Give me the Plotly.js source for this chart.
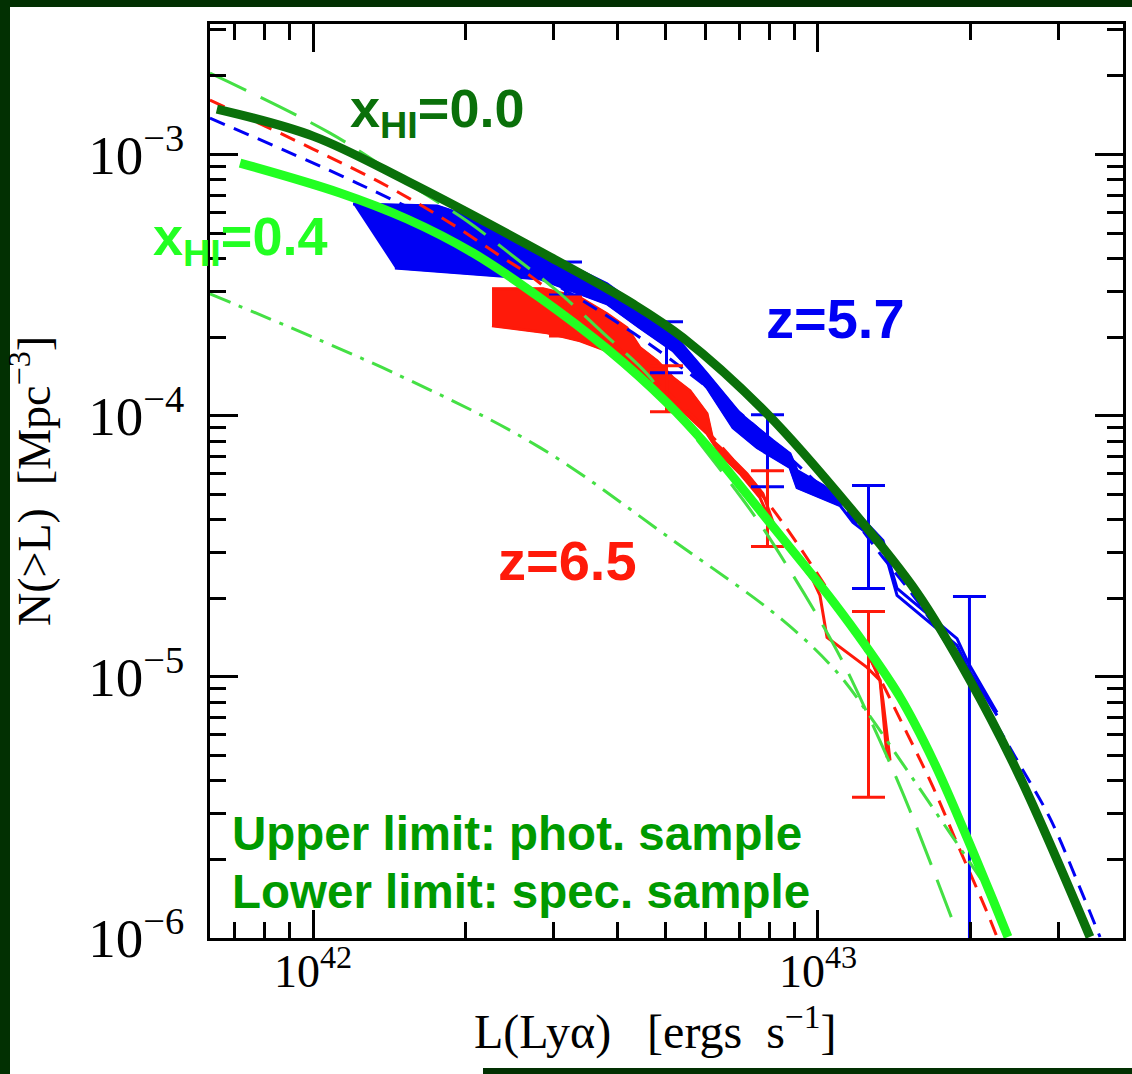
<!DOCTYPE html>
<html>
<head>
<meta charset="utf-8">
<script src="https://cdn.plot.ly/plotly-3.0.1.min.js"></script>
<style>
html,body{margin:0;padding:0;background:#ffffff;}
#chart{width:1132px;height:1074px;}
</style>
</head>
<body>
<div id="chart"></div>
<script>
// Units: luminosity in 1e42 erg/s, density in 1e-4 Mpc^-3
const L_UNIT = 1e42;
const N_UNIT = 1e-4;

// Model curve, x_HI = 0.0 (thick dark green)
const xhi00_L = [0.645, 1.0, 1.535, 2.947, 4.302, 5.403, 7.925, 11.57, 15.70, 20.00, 25.12, 34.56];
const xhi00_N = [14.93, 11.77, 7.92, 4.055, 2.681, 1.988, 1.018, 0.4446, 0.2104, 0.0970, 0.04127, 0.01009];

// Model curve, x_HI = 0.4 (thick bright green)
const xhi04_L = [0.717, 1.131, 1.535, 2.074, 2.816, 3.821, 5.023, 6.029, 7.009, 8.145, 9.511, 10.71, 12.45, 14.54, 16.90, 19.64, 22.21, 23.78];
const xhi04_N = [9.28, 7.13, 5.667, 4.201, 2.827, 1.804, 1.121, 0.768, 0.540, 0.376, 0.260, 0.1944, 0.1308, 0.0835, 0.0479, 0.02476, 0.01397, 0.01009];

// z=5.7 fit (blue dashed)
const fit57_L = [0.625, 1.222, 2.455, 4.302, 6.914, 7.675, 11.57, 13.45, 15.70, 20.00, 25.12, 28.80, 33.03, 36.18];
const fit57_N = [13.79, 7.78, 3.985, 2.077, 1.045, 0.876, 0.4146, 0.2864, 0.1961, 0.0970, 0.04589, 0.02876, 0.01553, 0.01009];

// z=6.5 fit (red dashed)
const fit65_L = [0.625, 1.0, 1.401, 1.842, 2.346, 2.727, 5.579, 8.035, 11.21, 12.12, 15.01, 16.90, 19.11, 21.61, 22.62];
const fit65_N = [16.16, 10.50, 7.58, 5.57, 4.092, 3.372, 1.018, 0.4527, 0.175, 0.1379, 0.0608, 0.0378, 0.02170, 0.01258, 0.01009];

// light green long-dashed model
const modelA_L = [0.625, 1.081, 1.607, 2.018, 2.489, 3.043, 3.752, 4.585, 5.023, 7.435, 8.80, 10.23, 11.21, 12.50, 14.08, 15.42, 18.68];
const modelA_N = [20.50, 12.08, 7.38, 5.57, 4.09, 3.006, 2.077, 1.447, 1.141, 0.4218, 0.2555, 0.1573, 0.1136, 0.0731, 0.0439, 0.0288, 0.01102];

// light green dash-dot model
const modelB_L = [0.625, 1.487, 2.816, 5.164, 8.524, 10.91, 12.68, 14.73, 16.90, 19.72, 22.41];
const modelB_N = [2.927, 1.422, 0.755, 0.333, 0.1645, 0.1041, 0.0706, 0.0463, 0.0314, 0.02023, 0.01397];

// z=5.7 data: upper limit (photometric) and lower limit (spectroscopic)
const z57up_L = [1.200, 1.761, 2.074, 2.816, 3.821, 4.442, 5.164, 6.029, 7.009, 8.145, 8.80, 9.09, 10.23, 11.57, 13.45, 14.34, 16.44, 18.85, 19.82, 22.62];
const z57up_N = [6.47, 6.36, 5.72, 4.28, 3.20, 2.59, 2.06, 1.447, 1.018, 0.802, 0.716, 0.616, 0.540, 0.453, 0.333, 0.218, 0.175, 0.140, 0.1136, 0.0731];
const z57lo_L = [1.453, 2.171, 2.816, 3.821, 4.442, 5.164, 6.029, 6.787, 7.572, 8.80, 9.09, 11.06, 11.73, 13.45, 14.34, 16.44, 18.85, 19.82, 22.62];
const z57lo_N = [3.68, 3.46, 3.34, 2.68, 2.17, 1.773, 1.280, 0.900, 0.755, 0.633, 0.530, 0.453, 0.390, 0.318, 0.205, 0.1645, 0.132, 0.1078, 0.0712];

// z=6.5 data: upper limit (photometric) and lower limit (spectroscopic)
const z65up_L = [2.262, 2.854, 3.379, 3.821, 4.186, 4.442, 4.800, 5.164, 5.579, 6.029, 6.196, 6.603, 7.234, 7.782, 8.294, 9.087, 9.774, 10.71, 12.50, 13.27, 13.45, 13.89];
const z65up_N = [3.06, 3.06, 2.83, 2.455, 2.170, 1.820, 1.623, 1.397, 1.246, 1.018, 0.802, 0.716, 0.600, 0.503, 0.354, 0.286, 0.240, 0.196, 0.1263, 0.0970, 0.0813, 0.0479];
const z65lo_L = [2.262, 2.907, 3.379, 3.821, 4.442, 5.023, 5.579, 6.029, 6.397, 7.009, 7.675, 8.035, 8.80, 9.774, 10.09, 10.42, 12.50, 13.27, 13.70];
const z65lo_N = [2.21, 2.077, 1.936, 1.773, 1.422, 1.172, 0.983, 0.853, 0.716, 0.600, 0.486, 0.397, 0.305, 0.234, 0.205, 0.1416, 0.1087, 0.0970, 0.0492];

// Error bars: position, lower and upper ends
const err57_L  = [3.162, 5.012, 7.943, 12.59, 19.95];
const err57_lo = [2.90, 1.46, 0.535, 0.218, 0.001];
const err57_hi = [3.88, 2.29, 1.009, 0.540, 0.203];
const err65_L  = [3.162, 5.012, 7.943, 12.59];
const err65_lo = [2.02, 1.036, 0.3155, 0.0346];
const err65_hi = [2.85, 1.553, 0.616, 0.178];

// x-axis labelled decades
const xTickExp = [42, 43];

// number of points (from the faint end) where each pair of limits forms a shaded band
const BAND57_UP = 14, BAND57_LO = 12;
const BAND65_UP = 14, BAND65_LO = 11;

// ---------------------------------------------------------------
const sL = a => a.map(v => v * L_UNIT);
const sN = a => a.map(v => v * N_UNIT);

const BLUE = '#0000f4', RED = '#ff1a0a', DKGREEN = '#0a700a', BRGREEN = '#22ff22', LTGREEN = '#44e044';

function errTrace(Ls, lo, hi, color) {
  const y = lo.map((l, i) => Math.sqrt(l * hi[i]));
  return {
    x: sL(Ls), y: sN(y), mode: 'markers', type: 'scatter',
    marker: {size: 1, color: 'rgba(0,0,0,0)'},
    error_y: {type: 'data', symmetric: false,
      array: sN(hi.map((h, i) => h - y[i])),
      arrayminus: sN(lo.map((l, i) => y[i] - l)),
      color: color, thickness: 3, width: 16.5},
    hoverinfo: 'skip'
  };
}
function line(Ls, Ns, color, width, dash, shape) {
  return {x: sL(Ls), y: sN(Ns), mode: 'lines', type: 'scatter',
    line: {color: color, width: width, dash: dash || 'solid', shape: shape || 'linear'}, hoverinfo: 'skip'};
}
function band(loL, loN, nLo, upL, upN, nUp, color) {
  return [
    {x: sL(loL.slice(0, nLo)), y: sN(loN.slice(0, nLo)), mode: 'lines', line: {color: color, width: 2}, hoverinfo: 'skip'},
    {x: sL(upL.slice(0, nUp)), y: sN(upN.slice(0, nUp)), mode: 'lines', line: {color: color, width: 2},
      fill: 'tonexty', fillcolor: color, hoverinfo: 'skip'}
  ];
}

const traces = [].concat(
  band(z57lo_L, z57lo_N, BAND57_LO, z57up_L, z57up_N, BAND57_UP, BLUE),
  [line(z57lo_L, z57lo_N, BLUE, 3), line(z57up_L, z57up_N, BLUE, 3)],
  band(z65lo_L, z65lo_N, BAND65_LO, z65up_L, z65up_N, BAND65_UP, RED),
  [line(z65lo_L, z65lo_N, RED, 3), line(z65up_L, z65up_N, RED, 3)],
  [
    line(fit57_L, fit57_N, BLUE, 3, '16px,10px', 'spline'),
    line(fit65_L, fit65_N, RED, 3, '16px,10px', 'spline'),
    errTrace(err57_L, err57_lo, err57_hi, BLUE),
    errTrace(err65_L, err65_lo, err65_hi, RED),
    line(modelA_L, modelA_N, LTGREEN, 3, '40px,16px', 'spline'),
    line(modelB_L, modelB_N, LTGREEN, 3, '22px,9px,4px,9px', 'spline'),
    line(xhi04_L, xhi04_N, BRGREEN, 9, 'solid', 'spline'),
    line(xhi00_L, xhi00_N, DKGREEN, 9, 'solid', 'spline')
  ]
);

// pixel -> paper helpers for layout decoration / text placement
const W = 1132, H = 1074, ML = 210, MR = 9, MT = 24, MB = 136;
const PW = W - ML - MR, PH = H - MT - MB;
const px = v => (v - ML) / PW;
const py = v => (H - MB - v) / PH;

const serif = 'Liberation Serif, Times New Roman, serif';
const sans = 'Liberation Sans, Arial, Helvetica, sans-serif';

function label(text, left, top, size, color, bg) {
  return {xref: 'paper', yref: 'paper', x: px(left), y: py(top), xanchor: 'left', yanchor: 'top',
    text: '<b>' + text + '</b>', showarrow: false, align: 'left',
    font: {family: sans, size: size, color: color},
    bgcolor: bg || 'rgba(0,0,0,0)', borderpad: 0, borderwidth: 0};
}

const annotations = [
  label('x<sub>HI</sub>=0.0', 350, 78, 54, DKGREEN, '#ffffff'),
  label('x<sub>HI</sub>=0.4', 153, 206, 54, BRGREEN),
  label('z=5.7', 766, 287, 56, BLUE),
  label('z=6.5', 498, 529, 56, RED),
  label('Upper limit: phot. sample', 232, 807, 47.5, '#009a00'),
  label('Lower limit: spec. sample', 232, 865, 47.5, '#009a00'),
  // x-axis title
  {xref: 'paper', yref: 'paper', x: px(655), y: py(1059), xanchor: 'center', yanchor: 'bottom',
   text: 'L(Ly\u03b1)\u00a0\u00a0\u00a0[ergs\u00a0\u00a0s<sup>\u22121</sup>]', showarrow: false,
   font: {family: serif, size: 48, color: '#000'}, borderpad: 0, borderwidth: 0}
].concat(xTickExp.map(e => ({
  // x tick labels of the log axis, placed at their decade
  xref: 'x', yref: 'paper', x: e, y: py(939), xanchor: 'center', yanchor: 'top',
  text: '10<sup>' + e + '</sup>', showarrow: false,
  font: {family: serif, size: 46, color: '#000'}, borderpad: 0, borderwidth: 0
})));

const BORDER = '#023002';
function rect(x0, y0, x1, y1) {
  return {type: 'rect', xref: 'paper', yref: 'paper', x0: px(x0), x1: px(x1), y0: py(y0), y1: py(y1),
    fillcolor: BORDER, line: {width: 0}, layer: 'above'};
}
const shapes = [rect(0, 0, W, 7), rect(0, 0, 10, H), rect(483, 1068, W, H)];

const axisCommon = {
  type: 'log', showline: true, linecolor: '#000', linewidth: 3, mirror: 'allticks',
  ticks: 'inside', ticklen: 28, tickwidth: 3, tickcolor: '#000',
  tick0: 0, dtick: 1, exponentformat: 'power', showexponent: 'all',
  tickfont: {family: serif, size: 44, color: '#000'},
  minor: {ticks: 'inside', ticklen: 16, tickwidth: 3, tickcolor: '#000', dtick: 'D1'},
  showgrid: false, zeroline: false
};

const layout = {
  width: W, height: H,
  margin: {l: ML, r: MR, t: MT, b: MB, pad: 0},
  paper_bgcolor: '#ffffff', plot_bgcolor: '#ffffff',
  showlegend: false,
  xaxis: Object.assign({}, axisCommon, {
    range: [41.796, 43.604], showticklabels: false
  }),
  yaxis: Object.assign({}, axisCommon, {
    range: [-6, -2.5], ticklabelstandoff: 14,
    title: {text: 'N(&gt;L)\u00a0\u00a0[Mpc<sup>\u22123</sup>]', font: {family: serif, size: 46, color: '#000'}, standoff: 24}
  }),
  annotations: annotations,
  shapes: shapes
};

Plotly.newPlot('chart', traces, layout, {staticPlot: true, displayModeBar: false});
</script>
</body>
</html>
